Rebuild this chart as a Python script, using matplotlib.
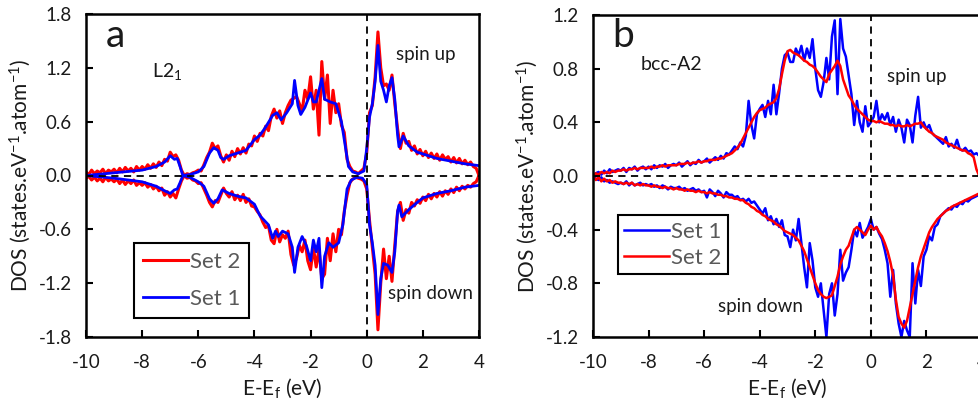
import numpy as np
import matplotlib
matplotlib.use("Agg")
import matplotlib.pyplot as plt

plt.rcParams['font.family'] = ['Lato', 'DejaVu Sans']
plt.rcParams['mathtext.default'] = 'regular'
plt.rcParams['axes.unicode_minus'] = False

# energy grid (eV) for the sampled curves
energy = np.round(np.arange(-100, 41) / 10, 1)

# ---- panel a: L2_1 ----
# Set 1 (smooth) spin up / spin down, sampled at key energies
a_set1_up_x = [-10, -9, -8, -7.5, -7.2, -7.0, -6.85, -6.75, -6.65, -6.55, -6.3, -6.0, -5.8,
               -5.6, -5.45, -5.3, -5.2, -5.1, -4.9, -4.6, -4.3, -4.0, -3.8, -3.6, -3.35,
               -3.2, -3.05, -2.85, -2.65, -2.57, -2.45, -2.35, -2.2, -2.0, -1.9, -1.8, -1.6,
               -1.5, -1.3, -1.1, -0.9, -0.75, -0.65, -0.5, -0.3, -0.1, 0.0, 0.1, 0.2, 0.3,
               0.4, 0.5, 0.6, 0.7, 0.8, 0.9, 1.0, 1.1, 1.15, 1.3, 1.5, 1.8, 2.0, 2.5, 3.0,
               3.5, 4.0]
a_set1_up = [0.0, 0.03, 0.06, 0.10, 0.15, 0.22, 0.18, 0.19, 0.10, 0.0, 0.01, 0.04, 0.10,
             0.25, 0.31, 0.28, 0.20, 0.18, 0.22, 0.25, 0.28, 0.40, 0.45, 0.54, 0.67,
             0.70, 0.62, 0.70, 0.80, 1.06, 0.78, 0.68, 0.76, 0.92, 0.82, 0.82, 1.08,
             0.85, 0.82, 0.80, 0.60, 0.30, 0.10, 0.04, 0.02, 0.05, 0.30, 0.65, 0.80, 1.05,
             1.45, 1.05, 0.95, 0.82, 1.00, 1.09, 0.85, 0.45, 0.32, 0.44, 0.33, 0.26, 0.24,
             0.19, 0.16, 0.13, 0.11]

a_set1_dn_x = [-10, -9, -8, -7.5, -7.2, -7.0, -6.85, -6.75, -6.65, -6.55, -6.3, -6.0, -5.8,
               -5.6, -5.45, -5.3, -5.15, -4.9, -4.6, -4.3, -4.0, -3.8, -3.5, -3.35, -3.25,
               -3.15, -3.0, -2.8, -2.65, -2.57, -2.45, -2.3, -2.15, -2.0, -1.9, -1.8, -1.7,
               -1.6, -1.5, -1.35, -1.2, -1.0, -0.85, -0.7, -0.55, -0.35, -0.15, 0.0, 0.1,
               0.2, 0.3, 0.4, 0.5, 0.6, 0.75, 0.9, 1.0, 1.1, 1.15, 1.25, 1.5, 1.8, 2.0, 2.5,
               3.0, 3.5, 4.0]
a_set1_dn = [0.0, -0.03, -0.07, -0.12, -0.17, -0.20, -0.16, -0.15, -0.08, 0.0, -0.02, -0.07,
             -0.12, -0.26, -0.31, -0.26, -0.16, -0.20, -0.23, -0.25, -0.32, -0.45, -0.55,
             -0.70, -0.62, -0.68, -0.62, -0.65, -0.80, -1.08, -0.80, -0.68, -0.78, -0.95,
             -0.72, -0.85, -0.70, -1.25, -0.90, -0.75, -0.80, -0.75, -0.55, -0.15, -0.05,
             -0.02, -0.03, -0.10, -0.55, -0.75, -1.00, -1.55, -1.15, -0.98, -1.00, -1.08,
             -0.85, -0.40, -0.33, -0.46, -0.38, -0.30, -0.25, -0.20, -0.17, -0.13, -0.11]

# Set 2 (noisy) on the 0.1 eV grid
a_set2_up = [0.04, 0.01, 0.06, 0.02, 0.05, 0.03, 0.07, 0.02, 0.06, 0.04,
             0.07, 0.03, 0.08, 0.04, 0.09, 0.05, 0.08, 0.04, 0.10, 0.06,
             0.10, 0.07, 0.12, 0.08, 0.13, 0.09, 0.15, 0.11, 0.18, 0.16,
             0.26, 0.21, 0.23, 0.17, 0.06, 0.00, 0.02, 0.01, 0.03, 0.04,
             0.06, 0.05, 0.12, 0.20, 0.26, 0.36, 0.30, 0.33, 0.22, 0.15,
             0.23, 0.17, 0.27, 0.21, 0.30, 0.24, 0.31, 0.25, 0.35, 0.33,
             0.44, 0.38, 0.47, 0.44, 0.55, 0.50, 0.66, 0.74, 0.64, 0.72,
             0.58, 0.70, 0.78, 0.84, 0.86, 0.88, 0.80, 0.72, 0.95, 0.85,
             1.10, 0.74, 0.95, 0.45, 1.27, 0.85, 1.12, 0.58, 0.95, 0.70,
             0.80, 0.56, 0.48, 0.18, 0.10, 0.05, 0.04, 0.02, 0.05, 0.08,
             0.25, 0.70, 0.78, 1.10, 1.60, 1.20, 1.00, 1.02, 0.95, 1.12,
             0.80, 0.52, 0.30, 0.47, 0.36, 0.38, 0.28, 0.33, 0.24, 0.29,
             0.22, 0.27, 0.20, 0.25, 0.19, 0.24, 0.17, 0.23, 0.18, 0.21,
             0.15, 0.20, 0.14, 0.19, 0.13, 0.17, 0.12, 0.15, 0.10, 0.08,
             0.00]
a_set2_dn = [-0.03, -0.01, -0.05, -0.02, -0.06, -0.03, -0.07, -0.02, -0.06, -0.04,
             -0.07, -0.04, -0.09, -0.05, -0.10, -0.06, -0.09, -0.05, -0.11, -0.08,
             -0.11, -0.08, -0.13, -0.10, -0.15, -0.12, -0.17, -0.14, -0.22, -0.18,
             -0.24, -0.20, -0.25, -0.15, -0.06, 0.00, -0.03, -0.02, -0.05, -0.06,
             -0.09, -0.08, -0.15, -0.22, -0.30, -0.35, -0.28, -0.30, -0.22, -0.14,
             -0.20, -0.24, -0.18, -0.27, -0.22, -0.28, -0.21, -0.30, -0.26, -0.34,
             -0.35, -0.40, -0.44, -0.52, -0.58, -0.56, -0.72, -0.76, -0.60, -0.74,
             -0.66, -0.70, -0.62, -0.88, -1.00, -0.92, -0.78, -0.85, -0.72, -0.95,
             -1.05, -0.80, -1.02, -0.82, -1.15, -1.10, -0.70, -0.95, -0.65, -0.85,
             -0.60, -0.66, -0.40, -0.22, -0.08, -0.04, -0.02, -0.03, -0.04, -0.06,
             -0.15, -0.50, -0.80, -1.10, -1.72, -1.20, -0.82, -1.15, -0.90, -1.18,
             -0.78, -0.40, -0.30, -0.50, -0.38, -0.42, -0.30, -0.34, -0.27, -0.31,
             -0.24, -0.28, -0.21, -0.26, -0.20, -0.24, -0.18, -0.23, -0.17, -0.21,
             -0.15, -0.19, -0.13, -0.17, -0.12, -0.15, -0.11, -0.13, -0.09, -0.07,
             0.00]

# ---- panel b: bcc-A2 ----
b_set1_up = [0.00, 0.02, 0.03, 0.01, 0.04, 0.02, 0.05, 0.03, 0.04, 0.05,
             0.04, 0.06, 0.03, 0.06, 0.05, 0.07, 0.04, 0.06, 0.07, 0.05,
             0.07, 0.05, 0.08, 0.06, 0.08, 0.07, 0.09, 0.06, 0.08, 0.09,
             0.08, 0.10, 0.07, 0.09, 0.11, 0.08, 0.10, 0.09, 0.12, 0.10,
             0.11, 0.13, 0.10, 0.12, 0.14, 0.12, 0.15, 0.13, 0.17, 0.16,
             0.19, 0.22, 0.20, 0.25, 0.22, 0.30, 0.56, 0.38, 0.28, 0.46,
             0.50, 0.53, 0.44, 0.56, 0.46, 0.68, 0.46, 0.62, 0.80, 0.90,
             0.92, 0.85, 0.85, 0.95, 0.90, 0.97, 0.86, 0.95, 0.88, 1.02,
             0.80, 0.64, 0.59, 0.70, 0.88, 0.72, 1.04, 1.16, 0.61, 1.17,
             0.95, 0.89, 0.75, 0.61, 0.38, 0.56, 0.40, 0.33, 0.52, 0.37,
             0.40, 0.44, 0.56, 0.40, 0.46, 0.42, 0.47, 0.38, 0.44, 0.33,
             0.42, 0.36, 0.25, 0.42, 0.38, 0.25, 0.45, 0.59, 0.36, 0.40,
             0.35, 0.38, 0.32, 0.30, 0.28, 0.26, 0.24, 0.29, 0.22, 0.24,
             0.21, 0.27, 0.20, 0.19, 0.21, 0.18, 0.19, 0.16, 0.17, 0.15,
             0.13]
b_set1_dn = [0.00, -0.02, -0.03, -0.01, -0.04, -0.03, -0.05, -0.04, -0.05, -0.06,
             -0.05, -0.06, -0.04, -0.07, -0.05, -0.07, -0.06, -0.05, -0.07, -0.06,
             -0.07, -0.06, -0.08, -0.07, -0.09, -0.07, -0.08, -0.10, -0.08, -0.09,
             -0.09, -0.08, -0.10, -0.09, -0.11, -0.10, -0.09, -0.11, -0.10, -0.12,
             -0.11, -0.16, -0.10, -0.12, -0.15, -0.11, -0.13, -0.16, -0.12, -0.14,
             -0.14, -0.16, -0.15, -0.18, -0.17, -0.19, -0.17, -0.20, -0.19, -0.22,
             -0.25, -0.28, -0.24, -0.33, -0.30, -0.36, -0.32, -0.38, -0.33, -0.44,
             -0.45, -0.53, -0.40, -0.48, -0.32, -0.50, -0.68, -0.83, -0.50, -0.63,
             -0.83, -0.90, -0.80, -1.00, -1.20, -0.88, -0.80, -1.04, -0.88, -0.55,
             -0.78, -0.72, -0.68, -0.55, -0.40, -0.45, -0.35, -0.46, -0.42, -0.38,
             -0.32, -0.40, -0.38, -0.43, -0.47, -0.55, -0.65, -0.90, -0.70, -0.95,
             -1.10, -1.20, -1.08, -1.15, -1.20, -0.65, -0.95, -0.70, -0.82, -0.60,
             -0.55, -0.45, -0.48, -0.38, -0.36, -0.30, -0.28, -0.26, -0.24, -0.25,
             -0.22, -0.23, -0.20, -0.21, -0.18, -0.19, -0.17, -0.16, -0.15, -0.14,
             -0.12]
b_set2_up = [0.00, 0.02, 0.01, 0.03, 0.02, 0.03, 0.02, 0.04, 0.03, 0.04,
             0.04, 0.05, 0.04, 0.05, 0.05, 0.06, 0.05, 0.06, 0.06, 0.06,
             0.06, 0.07, 0.06, 0.07, 0.07, 0.08, 0.07, 0.08, 0.08, 0.08,
             0.08, 0.09, 0.09, 0.09, 0.10, 0.09, 0.10, 0.10, 0.11, 0.10,
             0.11, 0.11, 0.12, 0.12, 0.12, 0.13, 0.13, 0.14, 0.15, 0.16,
             0.17, 0.19, 0.21, 0.24, 0.28, 0.32, 0.36, 0.40, 0.44, 0.47,
             0.49, 0.50, 0.51, 0.53, 0.54, 0.55, 0.58, 0.65, 0.76, 0.86,
             0.93, 0.94, 0.92, 0.91, 0.90, 0.88, 0.86, 0.85, 0.83, 0.82,
             0.80, 0.77, 0.74, 0.72, 0.70, 0.76, 0.79, 0.82, 0.86, 0.82,
             0.72, 0.66, 0.60, 0.57, 0.53, 0.50, 0.48, 0.46, 0.44, 0.42,
             0.41, 0.41, 0.40, 0.41, 0.40, 0.39, 0.39, 0.38, 0.38, 0.37,
             0.38, 0.37, 0.37, 0.38, 0.37, 0.38, 0.39, 0.39, 0.40, 0.37,
             0.35, 0.33, 0.32, 0.30, 0.29, 0.28, 0.27, 0.25, 0.24, 0.23,
             0.22, 0.21, 0.20, 0.19, 0.19, 0.17, 0.16, 0.14, 0.05, 0.00,
             0.00]
b_set2_dn = [0.00, -0.03, -0.01, -0.04, -0.02, -0.04, -0.03, -0.05, -0.04, -0.05,
             -0.05, -0.06, -0.05, -0.06, -0.05, -0.07, -0.06, -0.07, -0.06, -0.07,
             -0.07, -0.08, -0.07, -0.08, -0.08, -0.09, -0.08, -0.09, -0.09, -0.10,
             -0.09, -0.10, -0.10, -0.11, -0.10, -0.11, -0.11, -0.12, -0.11, -0.12,
             -0.12, -0.13, -0.12, -0.13, -0.13, -0.14, -0.14, -0.15, -0.15, -0.16,
             -0.16, -0.17, -0.17, -0.18, -0.18, -0.20, -0.21, -0.23, -0.24, -0.26,
             -0.27, -0.29, -0.30, -0.32, -0.33, -0.34, -0.36, -0.37, -0.39, -0.41,
             -0.42, -0.43, -0.44, -0.46, -0.48, -0.52, -0.56, -0.62, -0.68, -0.74,
             -0.80, -0.85, -0.88, -0.90, -0.91, -0.90, -0.89, -0.82, -0.75, -0.66,
             -0.60, -0.55, -0.52, -0.46, -0.40, -0.38, -0.40, -0.42, -0.44, -0.40,
             -0.37, -0.40, -0.38, -0.42, -0.45, -0.50, -0.56, -0.64, -0.74, -0.92,
             -1.05, -1.10, -1.13, -1.08, -0.98, -0.88, -0.78, -0.68, -0.60, -0.54,
             -0.48, -0.42, -0.38, -0.35, -0.32, -0.30, -0.28, -0.26, -0.25, -0.23,
             -0.22, -0.21, -0.20, -0.19, -0.18, -0.17, -0.16, -0.15, -0.14, -0.13,
             -0.11]

yticks_a = [-1.8, -1.2, -0.6, 0.0, 0.6, 1.2, 1.8]
yticks_b = [-1.2, -0.8, -0.4, 0.0, 0.4, 0.8, 1.2]
xticks = [-10, -8, -6, -4, -2, 0, 2, 4]

BLUE = '#0000ff'
RED = '#ff0000'
TXT = '#1a1a1a'

fig = plt.figure(figsize=(9.79, 4.07), dpi=100)
ax_a = fig.add_axes([86 / 979, 70 / 407, 393 / 979, 323 / 407])
ax_b = fig.add_axes([593 / 979, 70 / 407, 389 / 979, 322 / 407])


def style_axes(ax, yticks):
    ax.set_xlim(-10, 4)
    ax.set_ylim(yticks[0], yticks[-1])
    ax.set_xticks(xticks)
    ax.set_yticks(yticks)
    ax.set_yticklabels([f"{v:.1f}" for v in yticks])
    ax.tick_params(direction='in', length=5, width=1.5, labelsize=13.5, pad=10,
                   labelcolor=TXT)
    ax.tick_params(axis='x', pad=12)
    for s in ax.spines.values():
        s.set_linewidth(1.8)
    ax.axhline(0, color='black', ls='--', lw=1.3, dashes=(4, 3), zorder=5)
    ax.axvline(0, color='black', ls='--', lw=1.3, dashes=(4, 3), zorder=5)
    ax.set_xlabel("E-E$_f$ (eV)", fontsize=15, labelpad=4, color=TXT)
    ax.set_ylabel("DOS (states.eV$^{-1}$.atom$^{-1}$)", fontsize=15, labelpad=4, color=TXT)


# panel a
ax_a.plot(energy, a_set2_up, color=RED, lw=2.2, label='Set 2')
ax_a.plot(energy, a_set2_dn, color=RED, lw=2.2)
ax_a.plot(a_set1_up_x, a_set1_up, color=BLUE, lw=2, label='Set 1')
ax_a.plot(a_set1_dn_x, a_set1_dn, color=BLUE, lw=2)
style_axes(ax_a, yticks_a)
ax_a.text(-8.97, 1.55, "a", fontsize=28, ha='center', va='center', color=TXT)
ax_a.text(-7.1, 1.16, "L2$_1$", fontsize=14, ha='center', va='center', color=TXT)
ax_a.text(2.11, 1.35, "spin up", fontsize=13.5, ha='center', va='center', color=TXT)
ax_a.text(2.29, -1.31, "spin down", fontsize=13.5, ha='center', va='center', color=TXT)
leg = ax_a.legend(loc='lower left', bbox_to_anchor=(0.095, 0.025), fontsize=16,
                  frameon=True, fancybox=False, edgecolor='black', handlelength=2.0,
                  handletextpad=0.1, borderpad=0.4, labelspacing=0.75, labelcolor='#595959',
                  framealpha=1)
leg.get_frame().set_linewidth(1.5)

# panel b
ax_b.plot(energy, b_set1_up, color=BLUE, lw=1.8, label='Set 1')
ax_b.plot(energy, b_set1_dn, color=BLUE, lw=1.8)
ax_b.plot(energy, b_set2_up, color=RED, lw=1.8, label='Set 2')
ax_b.plot(energy, b_set2_dn, color=RED, lw=1.8)
style_axes(ax_b, yticks_b)
ax_b.text(-8.92, 1.04, "b", fontsize=28, ha='center', va='center', color=TXT)
ax_b.text(-7.16, 0.83, "bcc-A2", fontsize=14, ha='center', va='center', color=TXT)
ax_b.text(1.65, 0.74, "spin up", fontsize=13.5, ha='center', va='center', color=TXT)
ax_b.text(-3.96, -0.97, "spin down", fontsize=13.5, ha='center', va='center', color=TXT)
leg = ax_b.legend(loc='lower left', bbox_to_anchor=(0.035, 0.16), fontsize=16,
                  frameon=True, fancybox=False, edgecolor='black', handlelength=2.0,
                  handletextpad=0.1, borderpad=0.3, labelspacing=0.25, labelcolor='#595959',
                  framealpha=1)
leg.get_frame().set_linewidth(1.5)

plt.savefig("out.png", dpi=100)
